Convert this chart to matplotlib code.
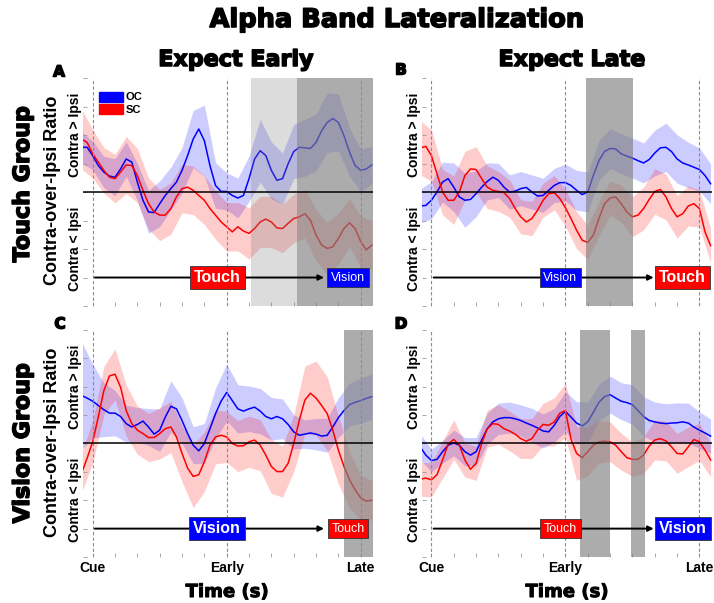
import numpy as np
import matplotlib
matplotlib.use("Agg")
import matplotlib.pyplot as plt
import matplotlib.patheffects as pe
from matplotlib.patches import Patch

# time grid (s): Cue = 0, Early = 1.2, Late = 2.4
t = np.linspace(-0.1, 2.5, 53)
t_ci = t[::2]

# mean curves
A_oc = [1.57, 1.57, 1.28, 0.93, 0.70, 0.56, 0.52, 0.81, 1.16, 1.05,
        0.35, -0.29, -0.70, -0.72, -0.41, -0.12, 0.12, 0.35, 0.76, 1.28,
        1.86, 2.21, 1.80, 0.93, 0.23, 0.02, 0.02, -0.12, -0.21, -0.12,
        0.47, 1.16, 1.45, 1.28, 0.76, 0.41, 0.47, 0.99, 1.42, 1.57,
        1.55, 1.53, 1.74, 2.15, 2.44, 2.58, 2.44, 1.98, 1.40, 0.93,
        0.76, 0.81, 0.95]
A_sc = [1.86, 1.74, 1.34, 1.05, 0.76, 0.52, 0.47, 0.70, 0.95, 0.93,
        0.58, 0.06, -0.41, -0.70, -0.81, -0.81, -0.58, -0.17, 0.12, 0.17,
        0.06, -0.12, -0.29, -0.58, -0.81, -1.05, -1.22, -1.40, -1.22, -1.37,
        -1.45, -1.28, -1.05, -0.95, -1.05, -1.26, -1.28, -1.10, -0.93, -0.87,
        -0.76, -0.99, -1.51, -1.86, -1.98, -1.92, -1.63, -1.28, -1.08, -1.28,
        -1.74, -2.03, -1.86]
B_oc = [-0.49, -0.47, -0.29, 0.00, 0.35, 0.47, 0.17, -0.17, -0.29, -0.26,
        -0.06, 0.17, 0.37, 0.52, 0.41, 0.17, 0.00, 0.03, 0.12, 0.16,
        0.00, -0.14, -0.12, 0.06, 0.23, 0.33, 0.33, 0.23, 0.06, -0.09,
        0.00, 0.58, 1.10, 1.42, 1.53, 1.51, 1.34, 1.26, 1.19, 1.10,
        1.02, 1.14, 1.37, 1.55, 1.57, 1.42, 1.16, 1.02, 0.95, 0.87,
        0.79, 0.58, 0.29]
B_sc = [1.55, 1.60, 1.28, 0.64, 0.00, -0.29, -0.29, 0.00, 0.58, 0.81,
        0.79, 0.47, 0.17, 0.06, 0.02, -0.02, -0.23, -0.58, -0.87, -1.05,
        -0.93, -0.64, -0.29, -0.06, -0.02, -0.23, -0.55, -0.93, -1.34, -1.69,
        -1.77, -1.51, -0.93, -0.41, -0.21, -0.17, -0.41, -0.70, -0.87, -0.81,
        -0.58, -0.26, 0.02, 0.09, -0.17, -0.58, -0.87, -0.76, -0.49, -0.41,
        -0.58, -1.40, -1.88]
C_oc = [1.69, 1.60, 1.49, 1.34, 1.19, 1.07, 1.07, 0.95, 0.70, 0.58,
        0.67, 0.79, 0.58, 0.33, 0.47, 0.93, 1.31, 1.22, 0.81, 0.35,
        -0.06, -0.26, 0.00, 0.52, 1.05, 1.49, 1.80, 1.51, 1.22, 1.14,
        1.22, 1.28, 1.14, 0.95, 0.87, 0.95, 0.87, 0.67, 0.41, 0.29,
        0.33, 0.37, 0.33, 0.26, 0.29, 0.58, 0.91, 1.16, 1.37, 1.45,
        1.51, 1.59, 1.65]
C_sc = [-1.05, -0.52, 0.06, 0.93, 1.86, 2.38, 2.44, 1.98, 1.16, 0.70,
        0.47, 0.35, 0.21, 0.21, 0.35, 0.52, 0.58, 0.23, -0.35, -0.87,
        -1.16, -1.10, -0.64, -0.06, 0.23, 0.29, 0.23, 0.00, -0.09, -0.08,
        0.06, 0.12, -0.06, -0.41, -0.81, -0.99, -0.99, -0.70, 0.00, 0.81,
        1.53, 1.77, 1.60, 1.34, 1.05, 0.47, -0.23, -0.81, -1.28, -1.63,
        -1.92, -2.03, -2.00]
D_oc = [-0.12, -0.41, -0.60, -0.56, -0.29, -0.06, 0.02, -0.06, -0.29, -0.41,
        -0.29, 0.12, 0.52, 0.76, 0.87, 0.91, 0.91, 0.87, 0.81, 0.72,
        0.64, 0.55, 0.44, 0.41, 0.64, 0.95, 1.13, 0.93, 0.72, 0.62,
        0.76, 1.10, 1.45, 1.65, 1.72, 1.60, 1.49, 1.44, 1.37, 1.16,
        0.95, 0.81, 0.76, 0.72, 0.70, 0.72, 0.73, 0.76, 0.72, 0.58,
        0.47, 0.37, 0.26]
D_sc = [-1.26, -1.22, -1.28, -1.10, -0.58, -0.02, 0.14, -0.06, -0.58, -0.91,
        -0.70, 0.00, 0.52, 0.70, 0.67, 0.52, 0.44, 0.33, 0.17, 0.08,
        0.17, 0.47, 0.67, 0.64, 0.76, 1.07, 1.16, 0.15, -0.35, -0.50,
        -0.29, -0.06, 0.06, 0.08, 0.06, -0.06, -0.29, -0.50, -0.56, -0.56,
        -0.41, -0.09, 0.12, 0.17, 0.09, -0.12, -0.35, -0.37, -0.12, 0.14,
        0.06, -0.23, -0.58]

# confidence band half-widths (every 0.1 s)
A_oc_ci = [0.55, 0.5, 0.55, 0.65, 0.6, 0.65, 0.75, 0.8, 0.75,
           0.8, 1.0, 1.25, 0.8, 0.65, 0.7, 0.8, 1.1, 1.0,
           0.9, 0.95, 1.0, 1.0, 1.05, 1.0, 0.85, 0.75, 0.65]
A_sc_ci = [1.05, 0.85, 0.8, 0.85, 1.0, 0.95, 0.9, 0.9, 0.9,
           0.85, 0.85, 0.85, 0.85, 0.85, 0.85, 0.9, 0.9, 0.9,
           0.85, 0.85, 0.85, 0.9, 0.9, 0.9, 0.85, 0.9, 0.85]
B_oc_ci = [0.6, 0.65, 0.7, 0.85, 0.95, 0.8, 0.65, 0.6, 0.6,
           0.6, 0.6, 0.6, 0.6, 0.65, 0.7, 0.7, 0.7, 0.7,
           0.7, 0.7, 0.7, 0.8, 0.85, 0.85, 0.8, 0.75, 0.7]
B_sc_ci = [0.95, 0.9, 0.8, 0.85, 0.85, 0.8, 0.75, 0.7, 0.65,
           0.6, 0.6, 0.6, 0.6, 0.65, 0.65, 0.6, 0.6, 0.6,
           0.65, 0.7, 0.75, 0.8, 0.8, 0.75, 0.7, 0.65, 0.6]
C_oc_ci = [1.9, 1.3, 0.95, 0.8, 0.65, 0.6, 0.65, 0.75, 0.9,
           0.8, 0.65, 0.7, 0.9, 1.0, 0.85, 0.8, 0.8, 0.75,
           0.7, 0.6, 0.5, 0.55, 0.6, 0.7, 0.75, 0.8, 0.8]
C_sc_ci = [0.7, 0.75, 0.85, 0.9, 0.9, 0.85, 0.85, 0.9, 0.9,
           1.0, 1.1, 1.05, 0.95, 0.9, 0.9, 0.9, 0.9, 0.95,
           0.9, 1.0, 1.2, 1.3, 1.3, 1.2, 1.0, 0.8, 0.7]
D_oc_ci = [0.45, 0.4, 0.4, 0.45, 0.5, 0.5, 0.55, 0.55, 0.55,
           0.55, 0.6, 0.6, 0.6, 0.7, 0.75, 0.7, 0.65, 0.65,
           0.65, 0.7, 0.7, 0.7, 0.7, 0.7, 0.7, 0.65, 0.6]
D_sc_ci = [0.6, 0.6, 0.65, 0.7, 0.6, 0.6, 0.65, 0.7, 0.7,
           0.7, 0.7, 0.75, 0.85, 0.95, 0.95, 0.85, 0.75, 0.7,
           0.65, 0.6, 0.65, 0.7, 0.7, 0.7, 0.7, 0.65, 0.6]

# significant windows (light, dark)
A_light = [(1.42, 1.833)]
A_dark = [(1.833, 2.51)]
B_dark = [(1.388, 1.806)]
C_dark = [(2.25, 2.51)]
D_dark = [(1.334, 1.597), (1.791, 1.91)]

events = [0, 1.2, 2.4]
event_labels = ["Cue", "Early", "Late"]

SANS = "Liberation Sans"
heavy = [pe.withStroke(linewidth=1.1, foreground="black")]

fig = plt.figure(figsize=(7.14, 6.03), dpi=100)


def panel(rect, oc, oc_ci, sc, sc_ci, light, dark, first, second, bottom):
    ax = fig.add_axes(rect)
    oc = np.array(oc)
    sc = np.array(sc)
    ax.fill_between(t_ci, oc[::2] - np.array(oc_ci), oc[::2] + np.array(oc_ci),
                    color="blue", alpha=0.2, lw=0, zorder=1)
    ax.fill_between(t_ci, sc[::2] - np.array(sc_ci), sc[::2] + np.array(sc_ci),
                    color="red", alpha=0.2, lw=0, zorder=1)
    ax.plot(t, oc, color="blue", lw=1.1, zorder=2)
    ax.plot(t, sc, color="red", lw=1.1, zorder=2)

    for a, b in light:
        ax.axvspan(a, b, color="0.5", alpha=0.27, lw=0, zorder=4)
    for a, b in dark:
        ax.axvspan(a, b, color="0.5", alpha=0.65, lw=0, zorder=4)

    for x in events:
        ax.axvline(x, color="0.55", ls=(0, (3, 2)), lw=0.8, zorder=4.5)
    ax.axhline(0, color="black", lw=1.1, zorder=5)

    # cue arrow with modality boxes
    (lab1, x1, big1), (lab2, x2, big2) = first, second
    arrow_end = x2 - (0.215 if not big2 else 0.26)
    ax.annotate("", xy=(arrow_end, -3), xytext=(0.02, -3),
                arrowprops=dict(arrowstyle="-|>", color="black", lw=1.4,
                                mutation_scale=8, shrinkA=0, shrinkB=0),
                zorder=5)
    for lab, x, big in [(lab1, x1, big1), (lab2, x2, big2)]:
        col = "red" if lab == "Touch" else "blue"
        if big:
            ax.text(x, -3, lab, ha="center", va="center", color="white",
                    fontsize=11.5, fontweight="bold", family=SANS, zorder=7,
                    bbox=dict(boxstyle="square,pad=0.25", fc=col, ec="#333333", lw=0.6))
        else:
            ax.text(x, -3, lab, ha="center", va="center", color="white",
                    fontsize=9, family=SANS, zorder=7,
                    bbox=dict(boxstyle="square,pad=0.3", fc=col, ec="#333333", lw=0.6))

    tr = ax.get_yaxis_transform()
    ax.text(-0.027, 2, "Contra > Ipsi", transform=tr, rotation=90, ha="center",
            va="center", fontsize=10, fontweight="bold", family=SANS)
    ax.text(-0.027, -2, "Contra < Ipsi", transform=tr, rotation=90, ha="center",
            va="center", fontsize=10, fontweight="bold", family=SANS)

    ax.set_xlim(-0.087, 2.51)
    ax.set_ylim(-4, 4)
    xt = np.round(np.arange(0, 2.41, 0.2), 2)
    ax.set_xticks(xt)
    if bottom:
        ax.set_xticklabels([event_labels[events.index(v)] if v in events else "" for v in xt],
                           fontsize=10, fontweight="bold", family=SANS)
    else:
        ax.set_xticklabels([])
    ax.set_yticks(range(-4, 5))
    ax.set_yticklabels([])
    ax.tick_params(direction="in", length=3, color="0.6", width=0.6, pad=3)
    for s in ax.spines.values():
        s.set_visible(False)
    return ax


top = [0.4925, 0.3781]
low = [0.0763, 0.3765]
axA = panel([0.1162, top[0], 0.4062, top[1]], A_oc, A_oc_ci, A_sc, A_sc_ci,
            A_light, A_dark, ("Touch", 1.114, True), ("Vision", 2.286, False), False)
axB = panel([0.5906, top[0], 0.4062, top[1]], B_oc, B_oc_ci, B_sc, B_sc_ci,
            [], B_dark, ("Vision", 1.155, False), ("Touch", 2.25, True), False)
axC = panel([0.1162, low[0], 0.4062, low[1]], C_oc, C_oc_ci, C_sc, C_sc_ci,
            [], C_dark, ("Vision", 1.114, True), ("Touch", 2.286, False), True)
axD = panel([0.5906, low[0], 0.4062, low[1]], D_oc, D_oc_ci, D_sc, D_sc_ci,
            [], D_dark, ("Touch", 1.155, False), ("Vision", 2.25, True), True)

axA.legend(handles=[Patch(color="blue", label="OC"), Patch(color="red", label="SC")],
           loc="upper left", bbox_to_anchor=(0.035, 0.965), frameon=False,
           borderpad=0, handlelength=2.2, handleheight=1.0, labelspacing=0.15,
           handletextpad=0.25, prop=dict(family=SANS, weight="bold", size=8))

# figure level text
fig.text(0.556, 0.9668, "Alpha Band Lateralization", ha="center", va="center",
         fontsize=18.5, fontweight="bold", path_effects=heavy)
fig.text(0.3305, 0.9005, "Expect Early", ha="center", va="center", fontsize=16,
         fontweight="bold", path_effects=heavy)
fig.text(0.8011, 0.9005, "Expect Late", ha="center", va="center", fontsize=16,
         fontweight="bold", path_effects=heavy)
for x, y, s in [(0.0826, 0.8806, "A"), (0.5616, 0.8839, "B"),
                (0.084, 0.4627, "C"), (0.5616, 0.4627, "D")]:
    fig.text(x, y, s, ha="center", va="center", fontsize=11, fontweight="bold",
             path_effects=heavy)
fig.text(0.0322, 0.6949, "Touch Group", rotation=90, ha="center", va="center",
         fontsize=16, fontweight="bold", path_effects=heavy)
fig.text(0.0322, 0.2653, "Vision Group", rotation=90, ha="center", va="center",
         fontsize=16, fontweight="bold", path_effects=heavy)
for y in [0.6849, 0.267]:
    fig.text(0.0742, y, "Contra-over-Ipsi Ratio", rotation=90, ha="center", va="center",
             fontsize=13, fontweight="bold", family=SANS)
for x in [0.318, 0.794]:
    fig.text(x, 0.0182, "Time (s)", ha="center", va="center", fontsize=13,
             fontweight="bold", path_effects=[pe.withStroke(linewidth=0.7, foreground="black")])

fig.savefig("out.png", dpi=100)
